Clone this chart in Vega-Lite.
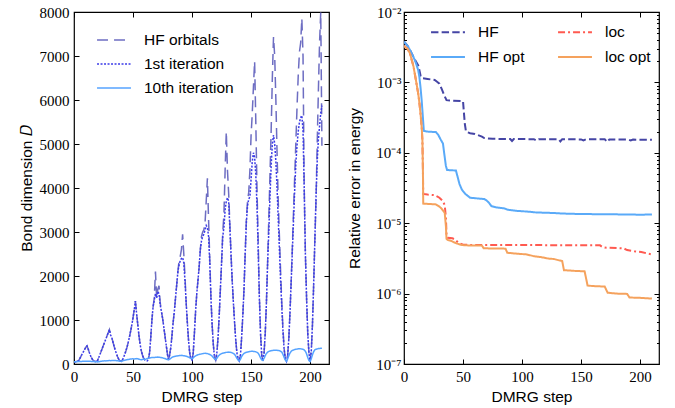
{
"$schema": "https://vega.github.io/schema/vega-lite/v6.json",
"background": "white",
"padding": {"left": 18, "top": 4, "right": 5, "bottom": 5},
"bounds": "flush",
"spacing": 75,
"config": {
  "view": {"stroke": "black", "strokeWidth": 1.2},
  "axis": {"domain": false, "grid": false, "ticks": true, "tickColor": "black", "tickWidth": 1, "labelFont": "Liberation Serif, Times New Roman, serif", "labelFontSize": 15, "labelColor": "black", "labelFlush": false, "labelOverlap": false, "titleFont": "Liberation Sans, Arial, sans-serif", "titleFontSize": 15.5, "titleFontWeight": "normal", "titleColor": "black"},
  "legend": {"padding": 0, "labelFont": "Liberation Sans, Arial, sans-serif", "labelFontSize": 15.5, "labelColor": "black", "symbolType": "stroke", "symbolSize": 1150, "labelOffset": 12, "clipHeight": 16}
},
"resolve": {"scale": {"color": "independent", "strokeDash": "independent", "x": "independent", "y": "independent"}, "legend": {"color": "independent", "strokeDash": "independent"}},
"hconcat": [
{
  "width": 255, "height": 352,
  "data": {"values": [
{"s":0,"hf":50,"it1":50,"it10":50},{"s":1,"hf":50,"it1":50,"it10":50},{"s":2,"hf":55,"it1":55,"it10":52},{"s":3,"hf":60,"it1":60,"it10":54},{"s":4,"hf":80,"it1":80,"it10":55},{"s":5,"hf":130,"it1":130,"it10":57},{"s":6,"hf":180,"it1":180,"it10":58},{"s":7,"hf":230,"it1":230,"it10":60},{"s":8,"hf":280,"it1":280,"it10":60},{"s":9,"hf":330,"it1":330,"it10":62},
{"s":10,"hf":380,"it1":380,"it10":63},{"s":11,"hf":410,"it1":410,"it10":62},{"s":12,"hf":340,"it1":340,"it10":62},{"s":13,"hf":260,"it1":260,"it10":60},{"s":14,"hf":190,"it1":190,"it10":60},{"s":15,"hf":130,"it1":130,"it10":58},{"s":16,"hf":90,"it1":90,"it10":56},{"s":17,"hf":65,"it1":65,"it10":55},{"s":18,"hf":55,"it1":55,"it10":52},{"s":19,"hf":60,"it1":60,"it10":50},
{"s":20,"hf":80,"it1":80,"it10":48},{"s":21,"hf":150,"it1":150,"it10":52},{"s":22,"hf":220,"it1":220,"it10":58},{"s":23,"hf":290,"it1":290,"it10":62},{"s":24,"hf":360,"it1":360,"it10":66},{"s":25,"hf":430,"it1":430,"it10":70},{"s":26,"hf":500,"it1":500,"it10":72},{"s":27,"hf":570,"it1":570,"it10":70},{"s":28,"hf":640,"it1":640,"it10":73},{"s":29,"hf":710,"it1":710,"it10":76},
{"s":30,"hf":780,"it1":780,"it10":78},{"s":31,"hf":660,"it1":660,"it10":76},{"s":32,"hf":600,"it1":600,"it10":78},{"s":33,"hf":500,"it1":500,"it10":80},{"s":34,"hf":400,"it1":400,"it10":80},{"s":35,"hf":310,"it1":310,"it10":78},{"s":36,"hf":230,"it1":230,"it10":76},{"s":37,"hf":160,"it1":160,"it10":74},{"s":38,"hf":100,"it1":100,"it10":70},{"s":39,"hf":70,"it1":70,"it10":66},
{"s":40,"hf":60,"it1":60,"it10":62},{"s":41,"hf":90,"it1":90,"it10":68},{"s":42,"hf":150,"it1":150,"it10":76},{"s":43,"hf":220,"it1":220,"it10":84},{"s":44,"hf":300,"it1":300,"it10":92},{"s":45,"hf":390,"it1":390,"it10":98},{"s":46,"hf":500,"it1":500,"it10":104},{"s":47,"hf":620,"it1":620,"it10":108},{"s":48,"hf":750,"it1":750,"it10":112},{"s":49,"hf":890,"it1":890,"it10":116},
{"s":50,"hf":1050,"it1":1050,"it10":118},{"s":51,"hf":1230,"it1":1230,"it10":114},{"s":52,"hf":1430,"it1":1430,"it10":118},{"s":53,"hf":1150,"it1":1150,"it10":122},{"s":54,"hf":900,"it1":900,"it10":118},{"s":55,"hf":650,"it1":650,"it10":110},{"s":56,"hf":450,"it1":450,"it10":100},{"s":57,"hf":300,"it1":300,"it10":96},{"s":58,"hf":200,"it1":200,"it10":104},{"s":59,"hf":130,"it1":130,"it10":112},
{"s":60,"hf":90,"it1":90,"it10":100},{"s":61,"hf":75,"it1":75,"it10":112},{"s":62,"hf":70,"it1":70,"it10":124},{"s":63,"hf":100,"it1":100,"it10":132},{"s":64,"hf":250,"it1":250,"it10":138},{"s":65,"hf":600,"it1":600,"it10":142},{"s":66,"hf":1000,"it1":1000,"it10":146},{"s":67,"hf":1300,"it1":1300,"it10":150},{"s":68,"hf":1500,"it1":1450,"it10":148},{"s":69,"hf":2100,"it1":1600,"it10":152},
{"s":70,"hf":1500,"it1":1500,"it10":156},{"s":71,"hf":1700,"it1":1650,"it10":158},{"s":72,"hf":1780,"it1":1600,"it10":154},{"s":73,"hf":1400,"it1":1350,"it10":150},{"s":74,"hf":1200,"it1":1200,"it10":146},{"s":75,"hf":1050,"it1":1050,"it10":140},{"s":76,"hf":850,"it1":850,"it10":132},{"s":77,"hf":650,"it1":650,"it10":124},{"s":78,"hf":450,"it1":450,"it10":112},{"s":79,"hf":250,"it1":250,"it10":104},
{"s":80,"hf":80,"it1":80,"it10":96},{"s":81,"hf":200,"it1":200,"it10":110},{"s":82,"hf":380,"it1":380,"it10":130},{"s":83,"hf":650,"it1":650,"it10":150},{"s":84,"hf":950,"it1":950,"it10":164},{"s":85,"hf":1200,"it1":1200,"it10":172},{"s":86,"hf":1500,"it1":1500,"it10":178},{"s":87,"hf":1800,"it1":1800,"it10":182},{"s":88,"hf":2100,"it1":2100,"it10":186},{"s":89,"hf":2350,"it1":2250,"it10":190},
{"s":90,"hf":2450,"it1":2350,"it10":194},{"s":91,"hf":2600,"it1":2400,"it10":196},{"s":92,"hf":2950,"it1":2420,"it10":192},{"s":93,"hf":2500,"it1":2300,"it10":188},{"s":94,"hf":2000,"it1":1900,"it10":184},{"s":95,"hf":1400,"it1":1400,"it10":178},{"s":96,"hf":950,"it1":950,"it10":168},{"s":97,"hf":550,"it1":550,"it10":156},{"s":98,"hf":250,"it1":250,"it10":142},{"s":99,"hf":120,"it1":120,"it10":128},
{"s":100,"hf":90,"it1":90,"it10":120},{"s":101,"hf":250,"it1":250,"it10":140},{"s":102,"hf":700,"it1":700,"it10":165},{"s":103,"hf":1200,"it1":1200,"it10":185},{"s":104,"hf":1600,"it1":1600,"it10":200},{"s":105,"hf":1900,"it1":1900,"it10":210},{"s":106,"hf":2200,"it1":2200,"it10":218},{"s":107,"hf":2600,"it1":2600,"it10":224},{"s":108,"hf":2900,"it1":2800,"it10":230},{"s":109,"hf":3000,"it1":2900,"it10":236},
{"s":110,"hf":3050,"it1":2950,"it10":240},{"s":111,"hf":3200,"it1":3050,"it10":244},{"s":112,"hf":3700,"it1":3150,"it10":240},{"s":113,"hf":4220,"it1":3100,"it10":236},{"s":114,"hf":3270,"it1":2900,"it10":228},{"s":115,"hf":2400,"it1":2300,"it10":216},{"s":116,"hf":1500,"it1":1500,"it10":200},{"s":117,"hf":900,"it1":900,"it10":180},{"s":118,"hf":450,"it1":450,"it10":150},{"s":119,"hf":150,"it1":150,"it10":120},
{"s":120,"hf":80,"it1":80,"it10":100},{"s":121,"hf":250,"it1":250,"it10":130},{"s":122,"hf":600,"it1":600,"it10":170},{"s":123,"hf":1100,"it1":1100,"it10":200},{"s":124,"hf":1700,"it1":1700,"it10":222},{"s":125,"hf":2300,"it1":2300,"it10":236},{"s":126,"hf":3000,"it1":2900,"it10":246},{"s":127,"hf":3400,"it1":3100,"it10":252},{"s":128,"hf":4400,"it1":3500,"it10":258},{"s":129,"hf":5280,"it1":3700,"it10":264},
{"s":130,"hf":4400,"it1":3780,"it10":268},{"s":131,"hf":3880,"it1":3700,"it10":270},{"s":132,"hf":3200,"it1":3100,"it10":266},{"s":133,"hf":2500,"it1":2500,"it10":262},{"s":134,"hf":1900,"it1":1900,"it10":254},{"s":135,"hf":1400,"it1":1400,"it10":240},{"s":136,"hf":950,"it1":950,"it10":220},{"s":137,"hf":550,"it1":550,"it10":180},{"s":138,"hf":250,"it1":250,"it10":130},{"s":139,"hf":110,"it1":110,"it10":90},
{"s":140,"hf":70,"it1":70,"it10":70},{"s":141,"hf":200,"it1":200,"it10":110},{"s":142,"hf":600,"it1":600,"it10":170},{"s":143,"hf":1100,"it1":1100,"it10":210},{"s":144,"hf":1700,"it1":1700,"it10":240},{"s":145,"hf":2500,"it1":2500,"it10":256},{"s":146,"hf":3300,"it1":3200,"it10":266},{"s":147,"hf":3700,"it1":3600,"it10":272},{"s":148,"hf":3900,"it1":3750,"it10":278},{"s":149,"hf":4400,"it1":3800,"it10":284},
{"s":150,"hf":5200,"it1":4200,"it10":288},{"s":151,"hf":5700,"it1":4600,"it10":290},{"s":152,"hf":6300,"it1":4800,"it10":286},{"s":153,"hf":6880,"it1":4700,"it10":282},{"s":154,"hf":5500,"it1":4300,"it10":276},{"s":155,"hf":4000,"it1":3600,"it10":266},{"s":156,"hf":2800,"it1":2600,"it10":246},{"s":157,"hf":1600,"it1":1500,"it10":200},{"s":158,"hf":700,"it1":700,"it10":140},{"s":159,"hf":200,"it1":200,"it10":95},
{"s":160,"hf":70,"it1":70,"it10":80},{"s":161,"hf":250,"it1":250,"it10":130},{"s":162,"hf":700,"it1":700,"it10":190},{"s":163,"hf":1400,"it1":1400,"it10":240},{"s":164,"hf":2300,"it1":2300,"it10":270},{"s":165,"hf":3300,"it1":3000,"it10":286},{"s":166,"hf":4300,"it1":3800,"it10":296},{"s":167,"hf":5300,"it1":4500,"it10":302},{"s":168,"hf":6500,"it1":5000,"it10":306},{"s":169,"hf":7430,"it1":5200,"it10":310},
{"s":170,"hf":7000,"it1":5000,"it10":312},{"s":171,"hf":6000,"it1":4600,"it10":314},{"s":172,"hf":4800,"it1":4000,"it10":312},{"s":173,"hf":3700,"it1":3300,"it10":308},{"s":174,"hf":2900,"it1":2600,"it10":302},{"s":175,"hf":2100,"it1":1900,"it10":290},{"s":176,"hf":1400,"it1":1300,"it10":270},{"s":177,"hf":800,"it1":750,"it10":220},{"s":178,"hf":350,"it1":330,"it10":150},{"s":179,"hf":120,"it1":120,"it10":90},
{"s":180,"hf":60,"it1":60,"it10":60},{"s":181,"hf":200,"it1":200,"it10":120},{"s":182,"hf":600,"it1":600,"it10":190},{"s":183,"hf":1200,"it1":1200,"it10":250},{"s":184,"hf":1900,"it1":1900,"it10":290},{"s":185,"hf":2700,"it1":2600,"it10":310},{"s":186,"hf":3500,"it1":3300,"it10":320},{"s":187,"hf":4300,"it1":4000,"it10":328},{"s":188,"hf":5100,"it1":4600,"it10":334},{"s":189,"hf":5900,"it1":5000,"it10":340},
{"s":190,"hf":6600,"it1":5300,"it10":344},{"s":191,"hf":7100,"it1":5500,"it10":346},{"s":192,"hf":7300,"it1":5600,"it10":344},{"s":193,"hf":7850,"it1":5650,"it10":340},{"s":194,"hf":7000,"it1":5300,"it10":334},{"s":195,"hf":4000,"it1":4000,"it10":320},{"s":196,"hf":2500,"it1":2500,"it10":290},{"s":197,"hf":1500,"it1":1500,"it10":230},{"s":198,"hf":700,"it1":700,"it10":150},{"s":199,"hf":250,"it1":250,"it10":80},
{"s":200,"hf":60,"it1":60,"it10":55},{"s":201,"hf":300,"it1":300,"it10":120},{"s":202,"hf":900,"it1":900,"it10":210},{"s":203,"hf":1800,"it1":1800,"it10":280},{"s":204,"hf":2800,"it1":2800,"it10":320},{"s":205,"hf":3700,"it1":3800,"it10":336},{"s":206,"hf":5000,"it1":4600,"it10":344},{"s":207,"hf":6200,"it1":5100,"it10":350},{"s":208,"hf":7300,"it1":5400,"it10":354},{"s":209,"hf":7990,"it1":5700,"it10":356},
{"s":210,"hf":4960,"it1":5870,"it10":358}
  ]},
  "transform": [{"fold": ["hf", "it1", "it10"], "as": ["series", "D"]}],
  "layer": [
    {
      "mark": {"type": "line", "strokeWidth": 1.5, "clip": true},
      "encoding": {
        "x": {"field": "s", "type": "quantitative", "scale": {"domain": [0, 216], "nice": false, "zero": false},
              "axis": {"values": [0, 50, 100, 150, 200], "format": "d", "title": "DMRG step", "tickSize": -5, "labelPadding": 10, "titlePadding": 5, "labelFont": "Liberation Serif, Times New Roman, serif"}},
        "y": {"field": "D", "type": "quantitative", "scale": {"domain": [0, 8000], "nice": false},
              "axis": {"values": [0, 1000, 2000, 3000, 4000, 5000, 6000, 7000, 8000], "format": "d", "title": "Bond dimension 𝐷", "tickSize": -5, "labelPadding": 10, "titlePadding": 5, "labelFont": "Liberation Serif, Times New Roman, serif"}},
        "color": {"field": "series", "type": "nominal", "scale": {"domain": ["hf", "it1", "it10"], "range": ["#6d6dc2", "#3a3ae8", "#55a3ff"]},
                  "legend": {"title": null, "orient": "none", "legendX": 22, "legendY": 20, "direction": "vertical", "rowPadding": 7, "symbolStrokeWidth": 1.5, "labelExpr": "datum.label == 'hf' ? 'HF orbitals' : datum.label == 'it1' ? '1st iteration' : '10th iteration'"}},
        "strokeDash": {"field": "series", "type": "nominal", "scale": {"domain": ["hf", "it1", "it10"], "range": [[11, 6], [2, 1.5], [1, 0]]},
                  "legend": {"title": null, "orient": "none", "legendX": 22, "legendY": 20, "direction": "vertical", "rowPadding": 7, "symbolStrokeWidth": 1.5, "labelExpr": "datum.label == 'hf' ? 'HF orbitals' : datum.label == 'it1' ? '1st iteration' : '10th iteration'"}}
      }
    },
    {
      "mark": {"type": "line", "opacity": 0},
      "encoding": {
        "x": {"field": "s", "type": "quantitative", "axis": {"values": [0, 50, 100, 150, 200], "labels": false, "title": null, "tickSize": -5}},
        "y": {"field": "D", "type": "quantitative", "axis": {"values": [0, 1000, 2000, 3000, 4000, 5000, 6000, 7000, 8000], "labels": false, "title": null, "tickSize": -5}},
        "detail": {"field": "series"}
      }
    }
  ],
  "resolve": {"axis": {"x": "independent", "y": "independent"}}
},
{
  "width": 255, "height": 352,
  "data": {"values": [
{"m":"HF","s":0,"e":0.0038},{"m":"HF","s":3,"e":0.0033},{"m":"HF","s":5,"e":0.0029},{"m":"HF","s":8,"e":0.0023},{"m":"HF","s":10,"e":0.002},{"m":"HF","s":12,"e":0.00175},{"m":"HF","s":13,"e":0.0015},{"m":"HF","s":14,"e":0.00125},{"m":"HF","s":15,"e":0.00115},{"m":"HF","s":20,"e":0.00112},{"m":"HF","s":26,"e":0.00108},{"m":"HF","s":28,"e":0.00102},{"m":"HF","s":30,"e":0.00096},{"m":"HF","s":32,"e":0.0008},{"m":"HF","s":34,"e":0.00066},{"m":"HF","s":36,"e":0.00056},{"m":"HF","s":42,"e":0.00055},{"m":"HF","s":50,"e":0.00054},{"m":"HF","s":50.6,"e":0.0004},{"m":"HF","s":51.5,"e":0.00026},{"m":"HF","s":52.5,"e":0.0002},{"m":"HF","s":56,"e":0.00019},{"m":"HF","s":60,"e":0.000185},{"m":"HF","s":62,"e":0.00018},{"m":"HF","s":66,"e":0.00017},{"m":"HF","s":68,"e":0.000162},{"m":"HF","s":75,"e":0.000158},{"m":"HF","s":90,"e":0.000157},{"m":"HF","s":91.5,"e":0.000147},{"m":"HF","s":93,"e":0.000157},{"m":"HF","s":110,"e":0.000156},{"m":"HF","s":112,"e":0.00015},{"m":"HF","s":114,"e":0.000156},{"m":"HF","s":131,"e":0.000156},{"m":"HF","s":132.5,"e":0.000145},{"m":"HF","s":134,"e":0.000156},{"m":"HF","s":150,"e":0.000155},{"m":"HF","s":152,"e":0.00015},{"m":"HF","s":154,"e":0.000155},{"m":"HF","s":170,"e":0.000156},{"m":"HF","s":172,"e":0.000143},{"m":"HF","s":174,"e":0.000155},{"m":"HF","s":190,"e":0.000154},{"m":"HF","s":192,"e":0.00015},{"m":"HF","s":194,"e":0.000154},{"m":"HF","s":210,"e":0.000153},
{"m":"HF opt","s":0,"e":0.0038},{"m":"HF opt","s":3,"e":0.0033},{"m":"HF opt","s":5,"e":0.0029},{"m":"HF opt","s":8,"e":0.0023},{"m":"HF opt","s":10,"e":0.0019},{"m":"HF opt","s":12,"e":0.0015},{"m":"HF opt","s":13,"e":0.0012},{"m":"HF opt","s":14,"e":0.00085},{"m":"HF opt","s":15,"e":0.00055},{"m":"HF opt","s":16,"e":0.00032},{"m":"HF opt","s":16.8,"e":0.000205},{"m":"HF opt","s":20,"e":0.0002},{"m":"HF opt","s":27,"e":0.000197},{"m":"HF opt","s":29,"e":0.00018},{"m":"HF opt","s":31,"e":0.000155},{"m":"HF opt","s":33,"e":0.000135},{"m":"HF opt","s":34,"e":0.0001},{"m":"HF opt","s":35.5,"e":0.000065},{"m":"HF opt","s":36.5,"e":0.000057},{"m":"HF opt","s":44,"e":0.000056},{"m":"HF opt","s":45.5,"e":0.000045},{"m":"HF opt","s":47,"e":0.000036},{"m":"HF opt","s":49,"e":0.00003},{"m":"HF opt","s":52,"e":0.000026},{"m":"HF opt","s":56,"e":0.000023},{"m":"HF opt","s":62,"e":0.0000225},{"m":"HF opt","s":68,"e":0.000022},{"m":"HF opt","s":70,"e":0.000021},{"m":"HF opt","s":72,"e":0.0000195},{"m":"HF opt","s":74,"e":0.0000175},{"m":"HF opt","s":78,"e":0.0000168},{"m":"HF opt","s":85,"e":0.0000162},{"m":"HF opt","s":88,"e":0.0000155},{"m":"HF opt","s":95,"e":0.000015},{"m":"HF opt","s":105,"e":0.0000146},{"m":"HF opt","s":112,"e":0.0000142},{"m":"HF opt","s":125,"e":0.000014},{"m":"HF opt","s":135,"e":0.0000137},{"m":"HF opt","s":150,"e":0.0000135},{"m":"HF opt","s":170,"e":0.0000134},{"m":"HF opt","s":190,"e":0.0000133},{"m":"HF opt","s":200,"e":0.0000132},{"m":"HF opt","s":210,"e":0.0000133},
{"m":"loc","s":0,"e":0.0033},{"m":"loc","s":3,"e":0.003},{"m":"loc","s":5,"e":0.0026},{"m":"loc","s":8,"e":0.0017},{"m":"loc","s":10,"e":0.0011},{"m":"loc","s":12,"e":0.0007},{"m":"loc","s":13,"e":0.00052},{"m":"loc","s":14,"e":0.00036},{"m":"loc","s":15,"e":0.00023},{"m":"loc","s":15.6,"e":0.00015},{"m":"loc","s":16,"e":0.00006},{"m":"loc","s":16.3,"e":0.000026},{"m":"loc","s":20,"e":0.0000255},{"m":"loc","s":26,"e":0.000025},{"m":"loc","s":28,"e":0.000024},{"m":"loc","s":30,"e":0.000023},{"m":"loc","s":33,"e":0.0000205},{"m":"loc","s":34.5,"e":0.000018},{"m":"loc","s":35.5,"e":0.000012},{"m":"loc","s":36,"e":0.000007},{"m":"loc","s":37,"e":0.0000062},{"m":"loc","s":41,"e":0.0000061},{"m":"loc","s":43,"e":0.0000059},{"m":"loc","s":46,"e":0.0000053},{"m":"loc","s":50,"e":0.00000495},{"m":"loc","s":60,"e":0.0000049},{"m":"loc","s":100,"e":0.0000049},{"m":"loc","s":150,"e":0.00000485},{"m":"loc","s":166,"e":0.00000485},{"m":"loc","s":168,"e":0.0000046},{"m":"loc","s":170,"e":0.0000045},{"m":"loc","s":186,"e":0.0000044},{"m":"loc","s":189,"e":0.00000415},{"m":"loc","s":195,"e":0.000004},{"m":"loc","s":201,"e":0.0000039},{"m":"loc","s":205,"e":0.00000375},{"m":"loc","s":210,"e":0.0000036},
{"m":"loc opt","s":0,"e":0.0033},{"m":"loc opt","s":3,"e":0.003},{"m":"loc opt","s":5,"e":0.0026},{"m":"loc opt","s":8,"e":0.0017},{"m":"loc opt","s":10,"e":0.0011},{"m":"loc opt","s":12,"e":0.0007},{"m":"loc opt","s":13,"e":0.00052},{"m":"loc opt","s":14,"e":0.00036},{"m":"loc opt","s":15,"e":0.00023},{"m":"loc opt","s":15.6,"e":0.00015},{"m":"loc opt","s":16,"e":0.00006},{"m":"loc opt","s":16.3,"e":0.000019},{"m":"loc opt","s":20,"e":0.0000188},{"m":"loc opt","s":27,"e":0.0000185},{"m":"loc opt","s":30,"e":0.0000172},{"m":"loc opt","s":32,"e":0.000016},{"m":"loc opt","s":34.5,"e":0.000014},{"m":"loc opt","s":35.5,"e":0.000009},{"m":"loc opt","s":36,"e":0.000006},{"m":"loc opt","s":37,"e":0.0000058},{"m":"loc opt","s":40,"e":0.0000056},{"m":"loc opt","s":44,"e":0.0000052},{"m":"loc opt","s":48,"e":0.00000495},{"m":"loc opt","s":51,"e":0.00000485},{"m":"loc opt","s":66,"e":0.0000048},{"m":"loc opt","s":67.5,"e":0.0000044},{"m":"loc opt","s":86,"e":0.00000435},{"m":"loc opt","s":87.5,"e":0.0000038},{"m":"loc opt","s":95,"e":0.0000037},{"m":"loc opt","s":104,"e":0.0000036},{"m":"loc opt","s":110,"e":0.0000034},{"m":"loc opt","s":116,"e":0.0000033},{"m":"loc opt","s":122,"e":0.00000315},{"m":"loc opt","s":127,"e":0.0000031},{"m":"loc opt","s":132,"e":0.00000295},{"m":"loc opt","s":134,"e":0.0000029},{"m":"loc opt","s":135.5,"e":0.00000215},{"m":"loc opt","s":145,"e":0.0000021},{"m":"loc opt","s":153,"e":0.00000207},{"m":"loc opt","s":155.5,"e":0.0000013},{"m":"loc opt","s":160,"e":0.00000128},{"m":"loc opt","s":170,"e":0.00000126},{"m":"loc opt","s":172.5,"e":0.00000103},{"m":"loc opt","s":180,"e":0.000001},{"m":"loc opt","s":189,"e":0.00000099},{"m":"loc opt","s":191,"e":0.00000088},{"m":"loc opt","s":200,"e":0.00000087},{"m":"loc opt","s":210,"e":0.00000085}
  ]},
  "layer": [
    {
      "mark": {"type": "line", "strokeWidth": 2, "clip": true},
      "encoding": {
        "x": {"field": "s", "type": "quantitative", "scale": {"domain": [0, 216], "nice": false, "zero": false},
              "axis": {"values": [0, 50, 100, 150, 200], "format": "d", "title": "DMRG step", "tickSize": -5, "labelPadding": 10, "titlePadding": 5, "labelFont": "Liberation Serif, Times New Roman, serif"}},
        "y": {"field": "e", "type": "quantitative", "scale": {"type": "log", "domain": [1e-7, 1e-2], "nice": false},
              "axis": {"values": [1e-7,2e-7,3e-7,4e-7,5e-7,6e-7,7e-7,8e-7,9e-7,1e-6,2e-6,3e-6,4e-6,5e-6,6e-6,7e-6,8e-6,9e-6,1e-5,2e-5,3e-5,4e-5,5e-5,6e-5,7e-5,8e-5,9e-5,1e-4,2e-4,3e-4,4e-4,5e-4,6e-4,7e-4,8e-4,9e-4,1e-3,2e-3,3e-3,4e-3,5e-3,6e-3,7e-3,8e-3,9e-3,1e-2],
                       "labelExpr": "abs(log(datum.value)/LN10 - round(log(datum.value)/LN10)) > 0.01 ? '' : '10⁻' + ['0','¹','²','³','⁴','⁵','⁶','⁷'][-round(log(datum.value)/LN10)]",
                       "tickSize": {"condition": {"test": "abs(log(datum.value)/LN10 - round(log(datum.value)/LN10)) < 0.01", "value": -5}, "value": -2.5},
                       "title": "Relative error in energy", "labelPadding": 8, "titlePadding": 13, "labelFont": "Liberation Serif, Times New Roman, serif"}},
        "color": {"field": "m", "type": "nominal", "scale": {"domain": ["HF", "HF opt", "loc", "loc opt"], "range": ["#4545a5", "#5aaaf8", "#ff5a50", "#f5a25d"]},
                  "legend": {"title": null, "orient": "none", "legendX": 26, "legendY": 12, "columns": 2, "columnPadding": 32, "rowPadding": 8, "symbolStrokeWidth": 2}},
        "strokeDash": {"field": "m", "type": "nominal", "scale": {"domain": ["HF", "HF opt", "loc", "loc opt"], "range": [[7.4, 3.2], [1, 0], [7, 3, 2, 3], [1, 0]]},
                  "legend": {"title": null, "orient": "none", "legendX": 26, "legendY": 12, "columns": 2, "columnPadding": 32, "rowPadding": 8, "symbolStrokeWidth": 2}}
      }
    },
    {
      "mark": {"type": "line", "opacity": 0},
      "encoding": {
        "x": {"field": "s", "type": "quantitative", "axis": {"values": [0, 50, 100, 150, 200], "labels": false, "title": null, "tickSize": -5}},
        "y": {"field": "e", "type": "quantitative",
              "axis": {"values": [1e-7,2e-7,3e-7,4e-7,5e-7,6e-7,7e-7,8e-7,9e-7,1e-6,2e-6,3e-6,4e-6,5e-6,6e-6,7e-6,8e-6,9e-6,1e-5,2e-5,3e-5,4e-5,5e-5,6e-5,7e-5,8e-5,9e-5,1e-4,2e-4,3e-4,4e-4,5e-4,6e-4,7e-4,8e-4,9e-4,1e-3,2e-3,3e-3,4e-3,5e-3,6e-3,7e-3,8e-3,9e-3,1e-2],
                       "labels": false, "title": null,
                       "tickSize": {"condition": {"test": "abs(log(datum.value)/LN10 - round(log(datum.value)/LN10)) < 0.01", "value": -5}, "value": -2.5}}},
        "detail": {"field": "m"}
      }
    }
  ],
  "resolve": {"axis": {"x": "independent", "y": "independent"}}
}
]
}
